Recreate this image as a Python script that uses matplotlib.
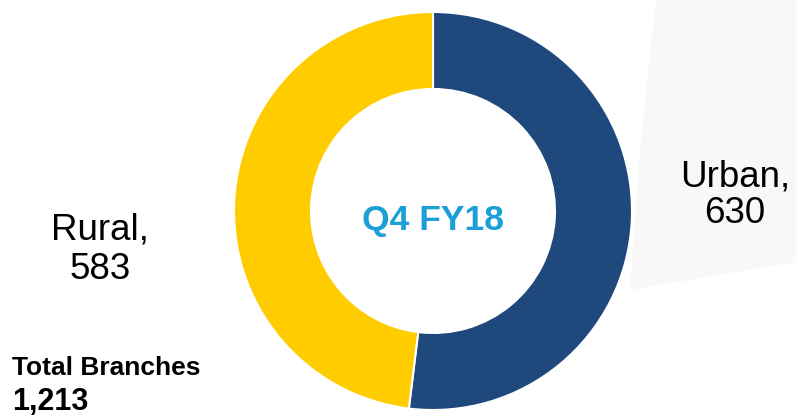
import matplotlib
matplotlib.use("Agg")
import matplotlib.pyplot as plt
from matplotlib.patches import Polygon

# data
labels = ["Urban", "Rural"]
branches = [630, 583]
period = "Q4 FY18"
total_label = "Total Branches"

colors = ["#1F497D", "#FFCC00"]

plt.rcParams["font.family"] = ["Liberation Sans", "DejaVu Sans"]

W, H = 796, 419
fig = plt.figure(figsize=(W / 100, H / 100), dpi=100)
ax = fig.add_axes([0, 0, 1, 1])

# faint grey backdrop on the right
bg = Polygon([(656, H), (W, H), (W, H - 262), (630, H - 290), (640, H - 150)],
             closed=True, facecolor="#F8F8F8", edgecolor="none", zorder=0)
ax.add_patch(bg)

ax.pie(
    branches,
    colors=colors,
    startangle=90,
    counterclock=False,
    center=(433, H - 211),
    radius=199,
    wedgeprops=dict(width=77, edgecolor="white", linewidth=1.5),
)

ax.set_xlim(0, W)
ax.set_ylim(0, H)
ax.set_aspect("equal")
ax.axis("off")

ax.text(433, H - 220, period, ha="center", va="center",
        fontsize=25.5, fontweight="bold", color="#1A9FD6")

ax.text(735, H - 195, f"{labels[0]},\n{branches[0]}", ha="center", va="center",
        fontsize=26.5, color="black", linespacing=1.05)
ax.text(100, H - 250, f"{labels[1]},\n{branches[1]}", ha="center", va="center",
        fontsize=26.5, color="black", linespacing=1.15)

ax.text(12, H - 368, total_label, ha="left", va="center",
        fontsize=19, fontweight="bold", color="black")
ax.text(12, H - 402, f"{sum(branches):,}", ha="left", va="center",
        fontsize=22, fontweight="bold", color="black")

fig.savefig("out.png", dpi=100)
